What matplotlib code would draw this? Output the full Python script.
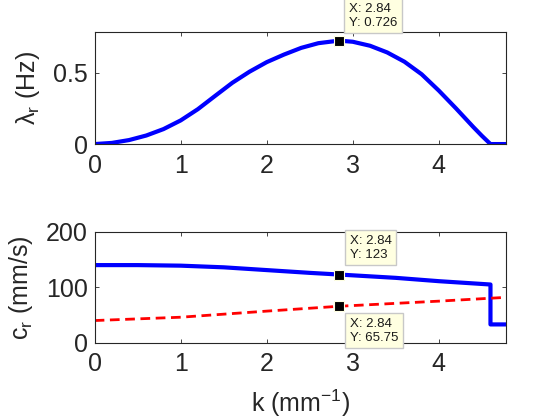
import numpy as np
import matplotlib
matplotlib.use("Agg")
import matplotlib.pyplot as plt

plt.rcParams['font.family'] = ['Liberation Sans', 'DejaVu Sans']
plt.rcParams['mathtext.fontset'] = 'custom'
plt.rcParams['mathtext.rm'] = 'Liberation Sans'
plt.rcParams['mathtext.it'] = 'Liberation Sans'
plt.rcParams['mathtext.default'] = 'regular'

# growth rate lambda_r (Hz) vs wavenumber k (1/mm)
k_lam = [0, 0.2, 0.4, 0.6, 0.8, 1.0, 1.2, 1.4, 1.6, 1.8, 2.0, 2.2, 2.4, 2.6,
         2.84, 3.0, 3.2, 3.4, 3.6, 3.8, 4.0, 4.2, 4.4, 4.5, 4.6, 4.8]
lam_r = [0, 0.008, 0.028, 0.06, 0.105, 0.166, 0.245, 0.338, 0.43, 0.508, 0.575,
         0.628, 0.675, 0.708, 0.726, 0.718, 0.69, 0.643, 0.578, 0.49, 0.375,
         0.25, 0.12, 0.058, 0, 0]

# phase speed c_r (mm/s), solid branch
k_c = [0, 0.5, 1.0, 1.5, 2.0, 2.5, 2.84, 3.5, 4.0, 4.6, 4.6, 4.8]
c_r = [140, 140, 139, 136, 131, 126, 123, 117, 111, 105, 33, 33]

# dashed reference speed (mm/s)
k_d = [0, 1.0, 2.0, 2.84, 4.0, 4.8]
c_d = [40, 46, 57, 65.75, 75, 82]

# data tips
tip_k = 2.84
tip_lam = 0.726
tip_c = 123
tip_d = 65.75

dark = '#262626'
fs = 18
fig = plt.figure(figsize=(5.6, 4.2), dpi=100)
ax1 = fig.add_axes([0.169, 0.657, 0.7345, 0.268])
ax2 = fig.add_axes([0.169, 0.184, 0.7345, 0.264])

tipbox = dict(boxstyle='square,pad=0.35', fc='#FFFFE1', ec='#C8C8C8', lw=1)

ax1.plot(k_lam, lam_r, color='#0000FF', lw=3)
ax1.plot(tip_k, tip_lam, 's', color='black', ms=6.5, mec='#FFFFE1', mew=0.8, zorder=5)
ax1.annotate('X: 2.84\nY: 0.726', xy=(tip_k, tip_lam), xytext=(10, 12),
             textcoords='offset pixels', ha='left', va='bottom', fontsize=9.5,
             color='#1a1a1a', bbox=tipbox, annotation_clip=False, zorder=6)
ax1.set_xlim(0, 4.78)
ax1.set_ylim(0, 0.79)
ax1.set_yticks([0, 0.5])
ax1.set_yticklabels(['0', '0.5'])
ax1.set_ylabel(r'$\lambda_r$ (Hz)', fontsize=fs, color=dark, labelpad=8)

ax2.plot(k_c, c_r, color='#0000FF', lw=3)
ax2.plot(k_d, c_d, color='#FF0000', lw=2, dashes=(3.5, 2))
ax2.plot([tip_k, tip_k], [tip_c, tip_d], 's', color='black', ms=6.5,
         mec='#FFFFE1', mew=0.8, zorder=5)
ax2.annotate('X: 2.84\nY: 123', xy=(tip_k, tip_c), xytext=(10.5, 14),
             textcoords='offset pixels', ha='left', va='bottom', fontsize=9.5,
             color='#1a1a1a', bbox=tipbox, zorder=6)
ax2.annotate('X: 2.84\nY: 65.75', xy=(tip_k, tip_d), xytext=(10.5, -11.6),
             textcoords='offset pixels', ha='left', va='top', fontsize=9.5,
             color='#1a1a1a', bbox=tipbox, zorder=6)
ax2.set_xlim(0, 4.78)
ax2.set_ylim(0, 200)
ax2.set_yticks([0, 100, 200])
ax2.set_ylabel(r'$c_r$ (mm/s)', fontsize=fs, color=dark, labelpad=8)
ax2.set_xlabel(r'k (mm$^{-1}$)', fontsize=fs, color=dark, labelpad=8)

for ax in (ax1, ax2):
    ax.set_xticks([0, 1, 2, 3, 4])
    ax.tick_params(direction='in', length=3, width=0.6, top=True, right=True,
                   labelsize=fs, colors=dark)
    ax.tick_params(axis='x', pad=7)
    ax.tick_params(axis='y', pad=5)
    for s in ax.spines.values():
        s.set_color(dark)
        s.set_linewidth(0.8)

fig.savefig('out.png', dpi=100)
